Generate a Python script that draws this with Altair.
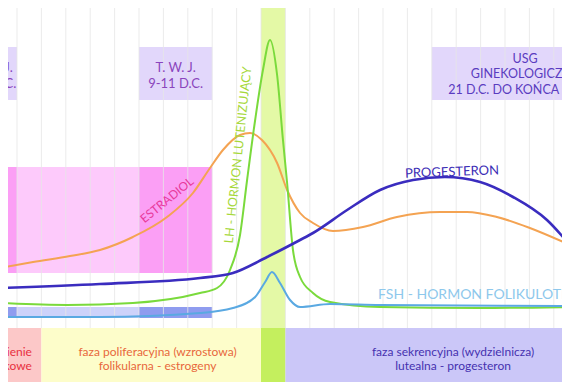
import altair as alt
import pandas as pd

# ---- data (day of cycle, relative hormone level) ----
estradiol_day = [2.30, 3.66, 5.17, 6.40, 7.75, 9.15, 10.21, 10.91, 11.44, 12.14, 12.55, 13.04, 13.66, 14.07, 14.60, 15.13, 15.95, 17.18, 18.57, 20.34, 21.44, 22.67, 24.02, 25.66]
estradiol_lvl = [122, 128, 134, 140, 153, 173, 197, 222, 240, 255, 257, 250, 227, 200, 177, 167, 159, 163, 173, 178, 178, 173, 162, 145]

progesteron_day = [2.30, 6.40, 10.50, 11.85, 13.25, 14.60, 15.13, 16.53, 17.88, 19.23, 20.54, 21.98, 23.33, 24.72, 25.66]
progesteron_lvl = [102, 106, 112, 117, 133, 150, 157, 180, 200, 210, 213, 208, 193, 170, 145]

lh_day = [2.30, 5.05, 7.75, 10.50, 11.20, 11.73, 12.14, 12.43, 12.76, 13.08, 13.37, 13.66, 13.90, 14.07, 14.31, 14.60, 15.13, 15.83, 17.88, 21.98, 25.66]
lh_lvl = [87, 85, 87, 97, 102, 120, 155, 210, 270, 320, 350, 315, 250, 207, 140, 113, 97, 88, 83, 82, 83]

fsh_day = [2.30, 6.40, 10.50, 11.85, 12.76, 13.17, 13.45, 13.78, 14.19, 14.60, 15.83, 17.88, 25.66]
fsh_lvl = [73, 73, 77, 82, 93, 108, 118, 107, 90, 83, 86, 85, 84]

# background bands: start day, end day, low level, high level, colour
band_start = [13, 1, 8, 20, 1, 3, 8, 1, 3, 8, 1, 4, 13, 14]
band_end = [14, 3, 11, 28, 3, 8, 11, 3, 8, 11, 4, 13, 14, 28]
band_low = [-20, 290, 290, 290, 117, 117, 117, 72, 72, 72, -20, -20, -20, -20]
band_high = [400, 343, 343, 343, 223, 223, 223, 83, 83, 83, 62, 62, 62, 62]
band_color = ["#e4f9a6", "#e2d7fb", "#e2d7fb", "#e2d7fb", "#fb9ff5", "#fdcafb", "#fb9ff5",
              "#8f9cef", "#cdd2fa", "#8f9cef", "#fcc8c8", "#fdfdca", "#c4ef5e", "#cbc7f8"]

grid_days = list(range(3, 27))

X_DOMAIN = [2.631, 25.336]
Y_DOMAIN = [8, 382]
xs = alt.Scale(domain=X_DOMAIN, nice=False, zero=False)
ys = alt.Scale(domain=Y_DOMAIN, nice=False, zero=False)

bands = pd.DataFrame({"d1": band_start, "d2": band_end, "l1": band_low, "l2": band_high, "c": band_color})
phase_bands = bands.iloc[10:].reset_index(drop=True)
upper_bands = bands.iloc[:10].reset_index(drop=True)

upper = alt.Chart(upper_bands).mark_rect(clip=True).encode(
    x=alt.X("d1:Q", scale=xs, axis=None), x2="d2:Q",
    y=alt.Y("l1:Q", scale=ys, axis=None), y2="l2:Q",
    color=alt.Color("c:N", scale=None),
)

grid_df = pd.DataFrame({"d": grid_days, "lo": [62] * len(grid_days), "hi": [400] * len(grid_days)})
grid = alt.Chart(grid_df).mark_rule(color="#e6e6e6", strokeWidth=1, opacity=0.8, clip=True).encode(
    x=alt.X("d:Q", scale=xs, axis=None),
    y=alt.Y("lo:Q", scale=ys, axis=None), y2="hi:Q",
)

phases = alt.Chart(phase_bands).mark_rect(clip=True).encode(
    x=alt.X("d1:Q", scale=xs, axis=None), x2="d2:Q",
    y=alt.Y("l1:Q", scale=ys, axis=None), y2="l2:Q",
    color=alt.Color("c:N", scale=None),
)

rows = []
for name, dd, ll, col, w in [
    ("estradiol", estradiol_day, estradiol_lvl, "#f4a352", 2),
    ("lh", lh_day, lh_lvl, "#7ada3c", 2),
    ("fsh", fsh_day, fsh_lvl, "#5aa9e2", 2),
    ("progesteron", progesteron_day, progesteron_lvl, "#3a2cbf", 2.6),
]:
    for d, l in zip(dd, ll):
        rows.append({"h": name, "day": d, "lvl": l, "col": col, "w": w})
curves = pd.DataFrame(rows)

lines = alt.Chart(curves).mark_line(interpolate="monotone", clip=True).encode(
    x=alt.X("day:Q", scale=xs, axis=None),
    y=alt.Y("lvl:Q", scale=ys, axis=None),
    color=alt.Color("col:N", scale=None),
    strokeWidth=alt.StrokeWidth("w:Q", scale=None),
    detail="h:N",
)

FONT = "Lato"

labels = pd.DataFrame([
    {"t": "T. W. J.", "day": 2.0, "lvl": 322, "c": "#8a45bd", "s": 13, "a": 0, "al": "center"},
    {"t": "2-4 D.C.", "day": 2.0, "lvl": 306, "c": "#8a45bd", "s": 13, "a": 0, "al": "center"},
    {"t": "T. W. J.", "day": 9.5, "lvl": 322, "c": "#8a45bd", "s": 13, "a": 0, "al": "center"},
    {"t": "9-11 D.C.", "day": 9.5, "lvl": 306, "c": "#8a45bd", "s": 13, "a": 0, "al": "center"},
    {"t": "USG", "day": 23.82, "lvl": 331, "c": "#5a3cc0", "s": 12.5, "a": 0, "al": "center"},
    {"t": "GINEKOLOGICZNE", "day": 23.82, "lvl": 316, "c": "#5a3cc0", "s": 12.5, "a": 0, "al": "center"},
    {"t": "21 D.C. DO KOŃCA CYKLU", "day": 23.82, "lvl": 300, "c": "#5a3cc0", "s": 12.5, "a": 0, "al": "center"},
    {"t": "ESTRADIOL", "day": 9.15, "lvl": 190, "c": "#e83a9c", "s": 12, "a": 321, "al": "center"},
    {"t": "LH - HORMON LUTENIZUJĄCY", "day": 12.06, "lvl": 235, "c": "#a6d83a", "s": 12.5, "a": 276, "al": "center"},
    {"t": "PROGESTERON", "day": 20.83, "lvl": 218, "c": "#3b2cb5", "s": 13, "a": 358, "al": "center"},
    {"t": "FSH - HORMON FOLIKULOTROPOWY", "day": 17.80, "lvl": 95, "c": "#8ec8ec", "s": 14, "a": 0, "al": "left"},
    {"t": "krwawienie", "day": 3.61, "lvl": 38, "c": "#e83040", "s": 12, "a": 0, "al": "right"},
    {"t": "miesiączkowe", "day": 3.61, "lvl": 24, "c": "#e83040", "s": 12, "a": 0, "al": "right"},
    {"t": "faza poliferacyjna (wzrostowa)", "day": 8.76, "lvl": 38, "c": "#e8683c", "s": 12, "a": 0, "al": "center"},
    {"t": "folikularna - estrogeny", "day": 8.76, "lvl": 24, "c": "#e8683c", "s": 12, "a": 0, "al": "center"},
    {"t": "faza sekrencyjna (wydzielnicza)", "day": 20.87, "lvl": 38, "c": "#4632b0", "s": 12, "a": 0, "al": "center"},
    {"t": "lutealna - progesteron", "day": 20.87, "lvl": 24, "c": "#4632b0", "s": 12, "a": 0, "al": "center"},
])

text_layers = []
for al in ["center", "left", "right"]:
    sub = labels[labels["al"] == al].reset_index(drop=True)
    text_layers.append(
        alt.Chart(sub).mark_text(font=FONT, align=al, baseline="middle").encode(
            x=alt.X("day:Q", scale=xs, axis=None),
            y=alt.Y("lvl:Q", scale=ys, axis=None),
            text="t:N",
            color=alt.Color("c:N", scale=None),
            size=alt.Size("s:Q", scale=None),
            angle=alt.Angle("a:Q", scale=None),
        )
    )

chart = alt.layer(upper, grid, phases, lines, *text_layers).properties(
    width=554, height=374, padding=0, autosize=alt.AutoSizeParams(type="none"),
    background="white",
).configure_view(stroke=None)

chart.save("out.html", embed_options={"renderer": "svg", "actions": False})
